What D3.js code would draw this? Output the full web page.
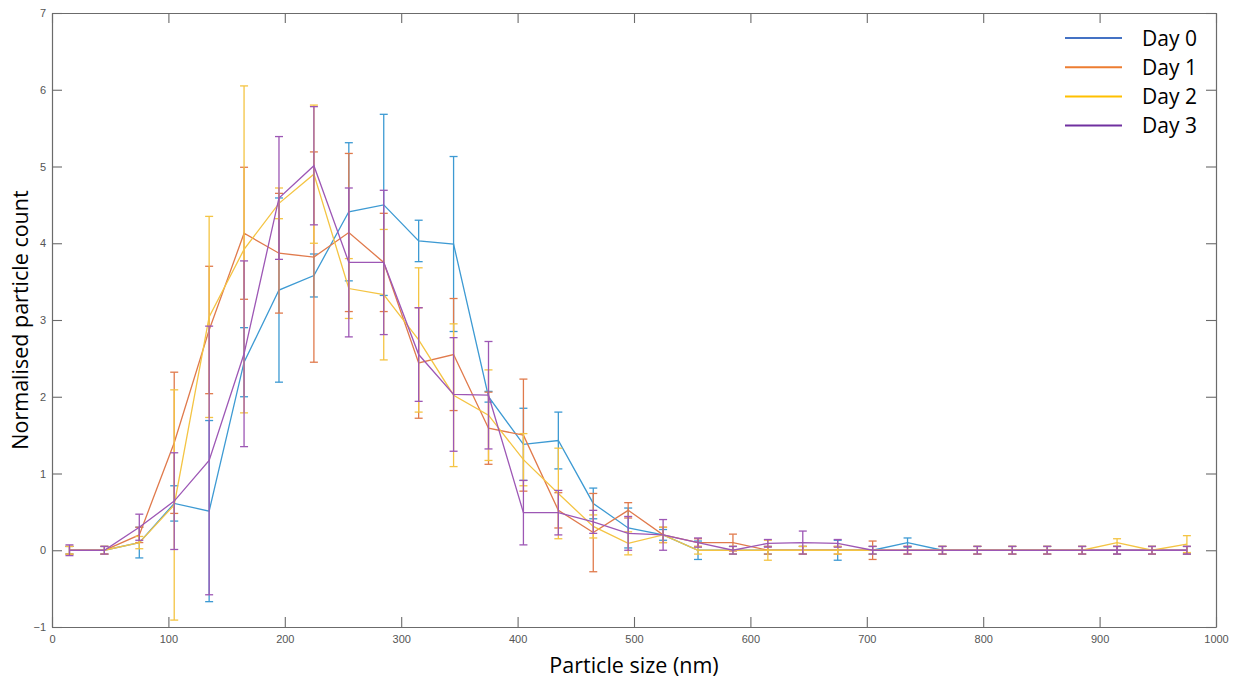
<!DOCTYPE html>
<html>
<head>
<meta charset="utf-8">
<script src="https://cdn.jsdelivr.net/npm/d3@7"></script>
<style>
  body { margin: 0; background: #fff; }
  svg { display: block; }
</style>
</head>
<body>
<div id="grafico"></div>
<script>
// bin centres (nm)
const sizes = [15, 45, 75, 105, 135, 165, 195, 225, 255, 285, 315, 345, 375, 405, 435, 465, 495,
  525, 555, 585, 615, 645, 675, 705, 735, 765, 795, 825, 855, 885, 915, 945, 975];

const day0 = [0, 0, 0.10, 0.61, 0.51, 2.45, 3.39, 3.58, 4.41, 4.50, 4.03, 3.99, 2.00, 1.38, 1.43, 0.61, 0.29,
  0.20, 0, 0, 0, 0, 0, 0, 0.10, 0, 0, 0, 0, 0, 0, 0, 0];
const day0Err = [0.05, 0.05, 0.20, 0.23, 1.18, 0.45, 1.20, 0.28, 0.90, 1.18, 0.27, 1.14, 0.07, 0.47, 0.37, 0.20, 0.26,
  0.07, 0.12, 0.05, 0.05, 0.05, 0.13, 0.05, 0.06, 0.05, 0.05, 0.05, 0.05, 0.05, 0.05, 0.05, 0.05];

const day1 = [0, 0, 0.20, 1.40, 2.87, 4.13, 3.87, 3.82, 4.14, 3.75, 2.44, 2.55, 1.59, 1.50, 0.52, 0.23, 0.52,
  0.20, 0.10, 0.10, 0, 0, 0, 0, 0, 0, 0, 0, 0, 0, 0, 0, 0];
const day1Err = [0.05, 0.05, 0.10, 0.92, 0.83, 0.86, 0.78, 1.37, 1.03, 0.64, 0.72, 0.73, 0.47, 0.73, 0.23, 0.51, 0.10,
  0.10, 0.05, 0.11, 0.05, 0.05, 0.05, 0.12, 0.05, 0.05, 0.05, 0.05, 0.05, 0.05, 0.05, 0.05, 0.05];

const day2 = [0, 0, 0.10, 0.59, 3.04, 3.92, 4.52, 4.90, 3.41, 3.33, 2.74, 2.02, 1.76, 1.18, 0.74, 0.31, 0.09,
  0.20, 0, 0, 0, 0, 0, 0, 0, 0, 0, 0, 0, 0, 0.10, 0, 0.08];
const day2Err = [0.05, 0.05, 0.08, 1.50, 1.31, 2.13, 0.20, 0.90, 0.39, 0.85, 0.94, 0.93, 0.59, 0.34, 0.59, 0.15, 0.15,
  0.10, 0.05, 0.05, 0.13, 0.05, 0.05, 0.05, 0.05, 0.05, 0.05, 0.05, 0.05, 0.05, 0.05, 0.05, 0.11];

const day3 = [0, 0, 0.30, 0.64, 1.17, 2.56, 4.59, 5.01, 3.75, 3.75, 2.55, 2.03, 2.02, 0.49, 0.49, 0.37, 0.22,
  0.20, 0.10, 0, 0.09, 0.10, 0.09, 0, 0, 0, 0, 0, 0, 0, 0, 0, 0];
const day3Err = [0.07, 0.05, 0.17, 0.63, 1.75, 1.21, 0.80, 0.77, 0.97, 0.94, 0.61, 0.74, 0.70, 0.42, 0.29, 0.15, 0.22,
  0.20, 0.06, 0.05, 0.05, 0.15, 0.05, 0.05, 0.05, 0.05, 0.05, 0.05, 0.05, 0.05, 0.05, 0.05, 0.05];

const seriesNames = ["Day 0", "Day 1", "Day 2", "Day 3"];
const xTicks = [0, 100, 200, 300, 400, 500, 600, 700, 800, 900, 1000];
const yTicks = [-1, 0, 1, 2, 3, 4, 5, 6, 7];

// colours: plot lines (matlab-ish, faded) and legend (office palette)
const lineColors = ["#3d9ad3", "#e07a4c", "#f4c443", "#9d57b5"];
const legendColors = ["#4472c4", "#ed7d31", "#ffc000", "#7030a0"];

const width = 1236;
const height = 682;
const marginLeft = 52, marginRight = 20, marginTop = 13, marginBottom = 55;

const svg = d3.select("#grafico").append("svg")
  .attr("width", width)
  .attr("height", height)
  .attr("viewBox", [0, 0, width, height]);

const x = d3.scaleLinear().domain([0, 1000]).range([marginLeft, width - marginRight]);
const y = d3.scaleLinear().domain([-1, 7]).range([height - marginBottom, marginTop]);

const axisColor = "#6b6b6b";
const tickFont = "11px 'Liberation Sans', Arial, sans-serif";

// box axes (ticks inward, matlab style)
const gx = svg.append("g")
  .attr("transform", `translate(0,${y(-1)})`)
  .call(d3.axisBottom(x).tickValues(xTicks).tickFormat(d3.format("d")).tickSize(-10).tickPadding(14).tickSizeOuter(0));
const gxTop = svg.append("g")
  .attr("transform", `translate(0,${y(7)})`)
  .call(d3.axisTop(x).tickValues(xTicks).tickSize(-10).tickFormat("").tickSizeOuter(0));
const gy = svg.append("g")
  .attr("transform", `translate(${x(0)},0)`)
  .call(d3.axisLeft(y).tickValues(yTicks).tickSize(-10).tickPadding(6).tickSizeOuter(0));
const gyRight = svg.append("g")
  .attr("transform", `translate(${x(1000)},0)`)
  .call(d3.axisRight(y).tickValues(yTicks).tickSize(-10).tickFormat("").tickSizeOuter(0));

[gx, gxTop, gy, gyRight].forEach(g => {
  g.selectAll(".domain").attr("stroke", axisColor).attr("stroke-width", 1.2);
  g.selectAll(".tick line").attr("stroke", axisColor).attr("stroke-width", 1.1);
  g.selectAll(".tick text").attr("fill", "#555").style("font", tickFont);
});
gx.selectAll(".tick text").attr("dy", "0.2em");

// data series with error bars
const allSeries = [
  { values: day0, errors: day0Err },
  { values: day1, errors: day1Err },
  { values: day2, errors: day2Err },
  { values: day3, errors: day3Err }
];

const line = d3.line()
  .x(d => x(d.size))
  .y(d => y(d.value));

const capHalf = 4;

allSeries.forEach((s, i) => {
  const pts = sizes.map((size, j) => ({ size: size, value: s.values[j], err: s.errors[j] }));
  const g = svg.append("g")
    .attr("stroke", lineColors[i])
    .attr("fill", "none")
    .attr("stroke-width", 1.3);

  g.append("path")
    .datum(pts)
    .attr("d", line);

  const bars = g.selectAll(".err")
    .data(pts)
    .join("g")
    .attr("class", "err");

  bars.append("line")
    .attr("x1", d => x(d.size)).attr("x2", d => x(d.size))
    .attr("y1", d => y(d.value - d.err)).attr("y2", d => y(d.value + d.err));
  bars.append("line")
    .attr("x1", d => x(d.size) - capHalf).attr("x2", d => x(d.size) + capHalf)
    .attr("y1", d => y(d.value + d.err)).attr("y2", d => y(d.value + d.err));
  bars.append("line")
    .attr("x1", d => x(d.size) - capHalf).attr("x2", d => x(d.size) + capHalf)
    .attr("y1", d => y(d.value - d.err)).attr("y2", d => y(d.value - d.err));
});

// axis labels
const labelFont = "'Open Sans', 'Noto Sans', sans-serif";
svg.append("text")
  .attr("x", (x(0) + x(1000)) / 2)
  .attr("y", 673)
  .attr("text-anchor", "middle")
  .style("font-family", labelFont)
  .style("font-size", "21.5px")
  .attr("fill", "#000")
  .text("Particle size (nm)");

svg.append("text")
  .attr("transform", `translate(28,${(y(-1) + y(7)) / 2}) rotate(-90)`)
  .attr("text-anchor", "middle")
  .style("font-family", labelFont)
  .style("font-size", "21.5px")
  .attr("fill", "#000")
  .text("Normalised particle count");

// legend
const legend = svg.append("g").attr("transform", "translate(1065,38)");
seriesNames.forEach((name, i) => {
  const row = legend.append("g").attr("transform", `translate(0,${i * 29.2})`);
  row.append("line")
    .attr("x1", 0).attr("x2", 57)
    .attr("y1", 0).attr("y2", 0)
    .attr("stroke", legendColors[i])
    .attr("stroke-width", 2);
  row.append("text")
    .attr("x", 77)
    .attr("y", 0)
    .attr("dy", "0.36em")
    .style("font-family", labelFont)
    .style("font-size", "21px")
    .attr("fill", "#000")
    .text(name);
});
</script>
</body>
</html>
